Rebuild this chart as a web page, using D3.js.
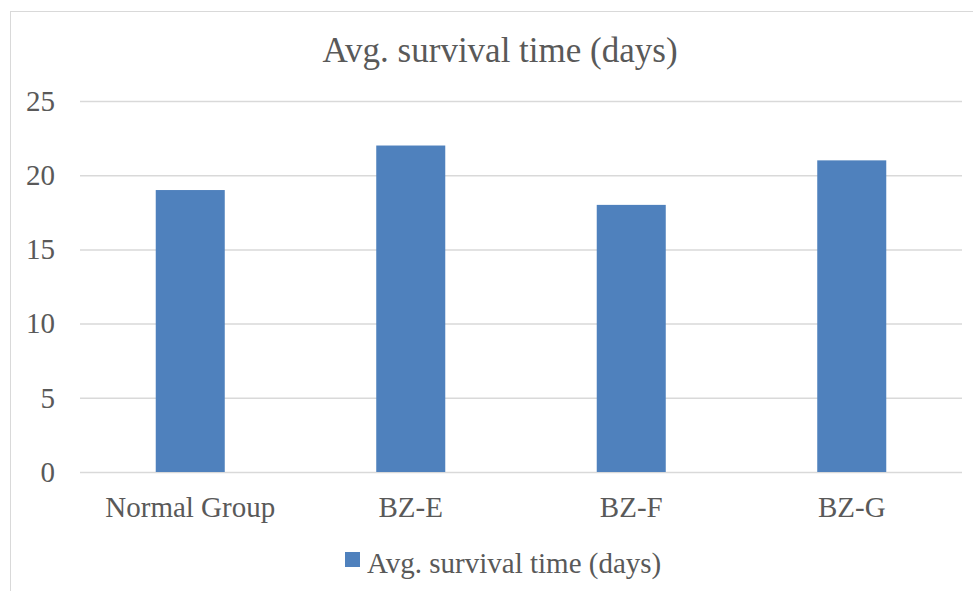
<!DOCTYPE html>
<html><head><meta charset="utf-8">
<script src="https://cdn.jsdelivr.net/npm/d3@7"></script>
<style>body{margin:0;background:#fff;}svg{display:block;font-family:"Liberation Serif","Times New Roman",serif;}</style>
</head><body>
<svg id="c" width="973" height="591"></svg>
<script>
const categories = ["Normal Group", "BZ-E", "BZ-F", "BZ-G"];
const values = [19, 22, 18, 21];
const yTicks = [0, 5, 10, 15, 20, 25];
const seriesName = "Avg. survival time (days)";
const title = "Avg. survival time (days)";

const svg = d3.select("#c");
const x = d3.scaleBand().domain(categories).range([80, 962]).paddingInner(0.687).paddingOuter(0.3435);
const y = d3.scaleLinear().domain([0, 25]).range([472, 101]);

svg.append("rect").attr("x", 10.5).attr("y", 11.5).attr("width", 980).attr("height", 600)
  .attr("fill", "#fff").attr("stroke", "#d9d9d9").attr("stroke-width", 1);

svg.append("text").attr("x", 500).attr("y", 62).attr("text-anchor", "middle")
  .attr("font-size", 35).attr("fill", "#595959").text(title);

const gy = svg.append("g").attr("transform", "translate(80,0)")
  .call(d3.axisLeft(y).tickValues(yTicks).tickSize(-882).tickPadding(25));
gy.select(".domain").remove();
gy.selectAll(".tick line").attr("stroke", "#d9d9d9").attr("stroke-width", 1.5);
gy.selectAll(".tick text").attr("fill", "#595959").attr("font-size", 29).attr("font-family", "Liberation Serif");

svg.append("g").selectAll("rect").data(values).join("rect")
  .attr("x", (d, i) => x(categories[i])).attr("width", x.bandwidth())
  .attr("y", d => y(d)).attr("height", d => y(0) - y(d))
  .attr("fill", "#4f81bd");

const gx = svg.append("g").attr("transform", "translate(0,472)")
  .call(d3.axisBottom(x).tickSize(0).tickPadding(0));
gx.select(".domain").remove();
gx.selectAll(".tick text").attr("dy", null).attr("y", 45).attr("fill", "#595959").attr("font-size", 29).attr("font-family", "Liberation Serif");

const lg = svg.append("g");
lg.append("rect").attr("x", 345).attr("y", 552).attr("width", 15).attr("height", 15).attr("fill", "#4f81bd");
lg.append("text").attr("x", 367).attr("y", 573).attr("font-size", 29).attr("fill", "#595959").text(seriesName);
</script>
</body></html>
